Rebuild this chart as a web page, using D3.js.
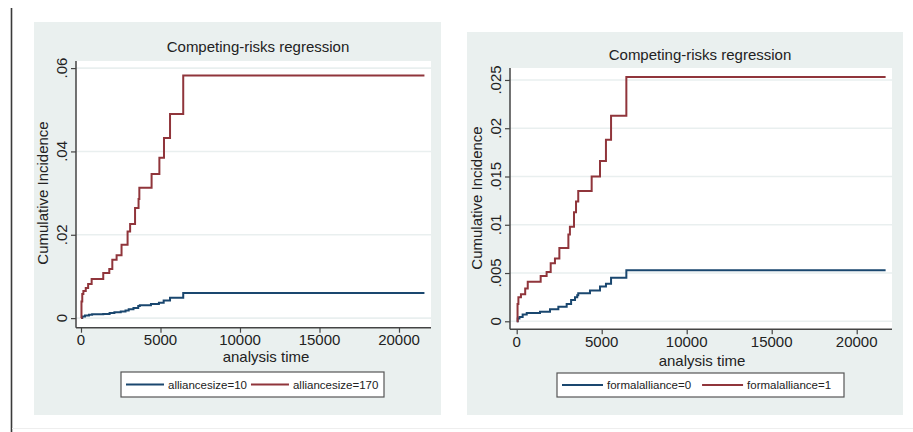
<!DOCTYPE html>
<html>
<head>
<meta charset="utf-8">
<script src="https://cdn.jsdelivr.net/npm/d3@7"></script>
<style>
  body { margin: 0; background: #fff; }
  svg { display: block; font-family: "Liberation Sans", Arial, sans-serif; }
</style>
</head>
<body>
<svg id="chart" width="913" height="432"></svg>
<script>
/*global d3*/

// step curves (time, cumulative incidence)
var size10Time = [0, 80, 250, 500, 700, 1400, 1800, 2100, 2500, 2800, 3000, 3300, 3600, 3700, 4400, 4900, 5200, 5600, 6430, 21600];
var size10Ci = [0, 0.0004, 0.0006, 0.0008, 0.0009, 0.001, 0.0012, 0.0014, 0.0016, 0.0018, 0.0021, 0.0024, 0.0029, 0.0031, 0.0034, 0.0037, 0.0042, 0.0049, 0.006, 0.006];

var size170Time = [0, 30, 80, 150, 300, 450, 670, 1400, 1780, 1970, 2240, 2550, 2930, 3090, 3400, 3620, 3670, 4440, 4930, 5220, 5600, 6430, 21600];
var size170Ci = [0, 0.004, 0.0058, 0.0065, 0.0072, 0.0082, 0.0094, 0.0108, 0.0118, 0.014, 0.0151, 0.0176, 0.0208, 0.0226, 0.0264, 0.0286, 0.0313, 0.0346, 0.0385, 0.0432, 0.049, 0.0582, 0.0582];

var formal0Time = [0, 60, 160, 350, 590, 1370, 1960, 2450, 2940, 3200, 3430, 3560, 3620, 4310, 4900, 5250, 5550, 6450, 21700];
var formal0Ci = [0, 0.0003, 0.00045, 0.0007, 0.00086, 0.001, 0.00124, 0.0015, 0.0018, 0.0022, 0.0025, 0.0027, 0.0029, 0.0032, 0.0036, 0.0039, 0.0045, 0.0053, 0.0053];

var formal1Time = [0, 50, 100, 250, 500, 650, 1410, 1760, 2000, 2250, 2510, 3040, 3130, 3370, 3490, 3620, 4410, 4900, 5250, 5550, 6450, 21700];
var formal1Ci = [0, 0.0018, 0.0025, 0.0028, 0.0034, 0.0041, 0.0047, 0.0051, 0.006, 0.0065, 0.0076, 0.009, 0.0098, 0.0113, 0.0124, 0.0135, 0.015, 0.0166, 0.0188, 0.0213, 0.0253, 0.0253];

var timeTicks = [0, 5000, 10000, 15000, 20000];
var sizeYTicks = [0, 0.02, 0.04, 0.06];
var formalYTicks = [0, 0.005, 0.01, 0.015, 0.02, 0.025];

var sizeLabels = ["alliancesize=10", "alliancesize=170"];
var formalLabels = ["formalalliance=0", "formalalliance=1"];

var chartTitle = "Competing-risks regression";
var yTitle = "Cumulative Incidence";
var xTitle = "analysis time";

var navy = "#1a476f", maroon = "#90353b";

var svg = d3.select("#chart");

// page frame bits
svg.append("line")
    .attr("x1", 11.5).attr("x2", 11.5).attr("y1", 8).attr("y2", 432)
    .attr("stroke", "#3a3a3a").attr("stroke-width", 1.6);
svg.append("line")
    .attr("x1", 12).attr("x2", 913).attr("y1", 428.5).attr("y2", 428.5)
    .attr("stroke", "#eeeeee").attr("stroke-width", 1);

var zip = function (ts, vs) {
  return ts.map(function (t, i) { return [t, vs[i]]; });
};

var fmtTick = function (v) {
  return String(v).replace(/^0\./, ".");
};

var drawPanel = function (o) {
  var g = svg.append("g");

  g.append("rect")
      .attr("x", o.bg[0]).attr("y", o.bg[1])
      .attr("width", o.bg[2] - o.bg[0]).attr("height", o.bg[3] - o.bg[1])
      .attr("fill", "#eaf0ef");

  var x = d3.scaleLinear().domain(o.xDomain).range([o.plot[0], o.plot[2]]);
  var y = d3.scaleLinear().domain(o.yDomain).range([o.plot[3], o.plot[1]]);

  g.append("rect")
      .attr("x", o.plot[0]).attr("y", o.plot[1])
      .attr("width", o.plot[2] - o.plot[0]).attr("height", o.plot[3] - o.plot[1])
      .attr("fill", "#fff");

  // grid
  g.selectAll(".grid").data(o.yTicks).enter().append("line")
      .attr("class", "grid")
      .attr("x1", o.plot[0]).attr("x2", o.plot[2])
      .attr("y1", function (d) { return y(d); })
      .attr("y2", function (d) { return y(d); })
      .attr("stroke", "#e9efef").attr("stroke-width", 1.6);

  // axes
  var yAxis = g.append("g")
      .attr("transform", "translate(" + o.plot[0] + ",0)")
      .call(d3.axisLeft(y).tickValues(o.yTicks).tickSize(5).tickFormat(""));
  var xAxis = g.append("g")
      .attr("transform", "translate(0," + o.plot[3] + ")")
      .call(d3.axisBottom(x).tickValues(timeTicks).tickSize(5).tickFormat(""));
  [yAxis, xAxis].forEach(function (a) {
    a.select(".domain").attr("stroke", "#444").attr("stroke-width", 1.5);
    a.selectAll(".tick line").attr("stroke", "#444").attr("stroke-width", 1.2);
  });
  xAxis.select(".domain").attr("d", "M" + o.plot[0] + ",0H" + o.plot[2]);
  yAxis.select(".domain").attr("d", "M0," + o.plot[1] + "V" + o.plot[3]);

  g.selectAll(".ylab").data(o.yTicks).enter().append("text")
      .attr("transform", function (d) {
        return "translate(" + (o.plot[0] - 9) + "," + y(d) + ") rotate(-90)";
      })
      .attr("text-anchor", "middle")
      .attr("font-size", 15).attr("fill", "#222")
      .text(fmtTick);

  g.selectAll(".xlab").data(timeTicks).enter().append("text")
      .attr("x", function (d) { return x(d); })
      .attr("y", o.plot[3] + 17.5)
      .attr("text-anchor", "middle")
      .attr("font-size", 15).attr("fill", "#222")
      .text(function (d) { return d; });

  // titles
  g.append("text")
      .attr("x", o.titleX).attr("y", o.titleY)
      .attr("text-anchor", "middle").attr("font-size", 15).attr("fill", "#222")
      .text(chartTitle);
  g.append("text")
      .attr("transform", "translate(" + (o.plot[0] - 28) + "," + o.yTitleY + ") rotate(-90)")
      .attr("text-anchor", "middle").attr("font-size", 15).attr("fill", "#222")
      .text(yTitle);
  g.append("text")
      .attr("x", o.xTitleX).attr("y", o.xTitleY)
      .attr("text-anchor", "middle").attr("font-size", 15).attr("fill", "#222")
      .text(xTitle);

  // curves
  var line = d3.line()
      .x(function (d) { return x(d[0]); })
      .y(function (d) { return y(d[1]); })
      .curve(d3.curveStepAfter);

  g.selectAll(".curve").data(o.series).enter().append("path")
      .attr("class", "curve")
      .attr("d", function (s) { return line(s.points); })
      .attr("fill", "none")
      .attr("stroke", function (s) { return s.color; })
      .attr("stroke-width", 2)
      .attr("stroke-linejoin", "miter");

  // legend
  var lb = o.legend;
  g.append("rect")
      .attr("x", lb[0]).attr("y", lb[1])
      .attr("width", lb[2] - lb[0]).attr("height", lb[3] - lb[1])
      .attr("fill", "#fff").attr("stroke", "#555").attr("stroke-width", 1.2);
  var cy = (lb[1] + lb[3]) / 2;
  var cx = lb[0] + o.legendPad;
  o.series.forEach(function (s) {
    g.append("line")
        .attr("x1", cx).attr("x2", cx + o.legendLine)
        .attr("y1", cy).attr("y2", cy)
        .attr("stroke", s.color).attr("stroke-width", 1.8);
    cx += o.legendLine + 4;
    var t = g.append("text")
        .attr("x", cx).attr("y", cy + 4)
        .attr("font-size", 11.5).attr("fill", "#222")
        .text(s.label);
    cx += t.node().getComputedTextLength() + o.legendGap;
  });
};

drawPanel({
  bg: [34, 22, 441, 415],
  plot: [76, 61, 431, 327.7],
  xDomain: [-314, 22013],
  yDomain: [-0.0023, 0.0617],
  yTicks: sizeYTicks,
  titleX: 258, titleY: 52,
  yTitleY: 193,
  xTitleX: 266, xTitleY: 362,
  legend: [121, 372, 384, 397],
  legendPad: 5, legendLine: 38, legendGap: 4,
  series: [
    {label: sizeLabels[0], color: navy, points: zip(size10Time, size10Ci)},
    {label: sizeLabels[1], color: maroon, points: zip(size170Time, size170Ci)}
  ]
});

drawPanel({
  bg: [467, 32, 903, 415],
  plot: [510, 68, 892, 329.3],
  xDomain: [-394, 22076],
  yDomain: [-0.00083, 0.02624],
  yTicks: formalYTicks,
  titleX: 700, titleY: 60,
  yTitleY: 198,
  xTitleX: 702, xTitleY: 366,
  legend: [557, 373, 844, 397],
  legendPad: 5, legendLine: 41, legendGap: 11,
  series: [
    {label: formalLabels[0], color: navy, points: zip(formal0Time, formal0Ci)},
    {label: formalLabels[1], color: maroon, points: zip(formal1Time, formal1Ci)}
  ]
});
</script>
</body>
</html>
